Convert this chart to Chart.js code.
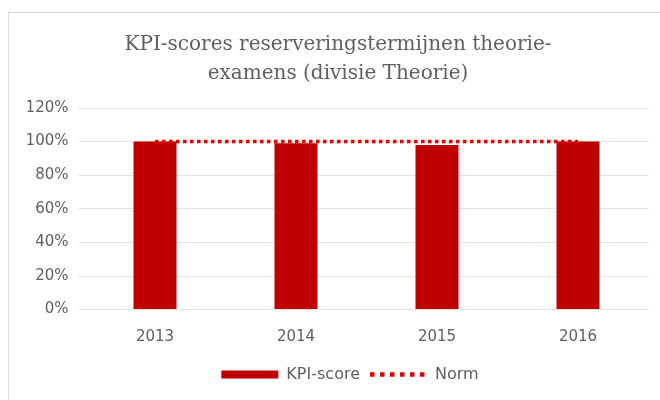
<!DOCTYPE html>
<html>
<head>
<meta charset="utf-8">
<script src="https://cdn.jsdelivr.net/npm/chart.js@4.4.1/dist/chart.umd.min.js"></script>
<style>
  html, body { margin: 0; padding: 0; background: #fff; }
  #wrap { position: absolute; left: 0; top: 0; width: 660px; height: 400px; }
  #frame { position: absolute; left: 8px; top: 12px; width: 660px; height: 400px; border: 1px solid #d9d9d9; box-sizing: border-box; }
</style>
</head>
<body>
<div id="frame"></div>
<div id="wrap"><canvas id="kpiChart" width="660" height="400"></canvas></div>
<script>
'use strict';

// ------------------------------------------------------- //
// Data
// ------------------------------------------------------ //
var years = ['2013', '2014', '2015', '2016'];
var kpiScores = [1.00, 0.99, 0.98, 1.00];
var norm = [1.00, 1.00, 1.00, 1.00];
var titleLines = ['KPI-scores reserveringstermijnen theorie-', 'examens (divisie Theorie)'];

var textColor = '#5f5f5f';
var sansFont = 'DejaVu Sans';

// nudge the legend a bit to the right, like the original
var legendShift = {
    id: 'legendShift',
    afterLayout: function(chart) {
        chart.legend.left += 12;
        chart.legend.right += 12;
    }
};

var ctx = document.getElementById('kpiChart').getContext('2d');
var kpiChart = new Chart(ctx, {
    type: 'bar',
    data: {
        labels: years,
        datasets: [{
            label: 'KPI-score',
            data: kpiScores,
            backgroundColor: '#c00000',
            borderWidth: 0,
            pointStyle: 'rect',
            categoryPercentage: 1,
            barPercentage: 0.305,
            order: 2
        }, {
            type: 'line',
            label: 'Norm',
            data: norm,
            borderColor: '#e60000',
            backgroundColor: '#e60000',
            borderWidth: 3.5,
            borderDash: [3.5, 3.5],
            pointRadius: 0,
            pointStyle: 'line',
            fill: false,
            order: 1
        }]
    },
    plugins: [legendShift],
    options: {
        responsive: false,
        animation: false,
        layout: { padding: { left: 27.5, right: 11.5, top: 0, bottom: 7.6 } },
        plugins: {
            title: {
                display: true,
                text: titleLines,
                color: textColor,
                font: { family: 'DejaVu Serif', size: 20, weight: 'normal', lineHeight: 1.45 },
                padding: { top: 30.5, bottom: 19.5 }
            },
            legend: {
                position: 'bottom',
                labels: {
                    usePointStyle: true,
                    pointStyleWidth: 57,
                    boxHeight: 8,
                    color: textColor,
                    font: { family: sansFont, size: 16 },
                    padding: 10,
                    sort: function(a, b) { return a.datasetIndex - b.datasetIndex; },
                    generateLabels: function(chart) {
                        var items = Chart.defaults.plugins.legend.labels.generateLabels(chart);
                        items.forEach(function(it) {
                            if (it.text === 'Norm') {
                                it.lineDash = [4.5, 5.5];
                                it.lineWidth = 4.5;
                                it.strokeStyle = '#e60000';
                            }
                        });
                        return items;
                    }
                }
            },
            tooltip: { enabled: false }
        },
        scales: {
            x: {
                afterFit: function(scale) { scale.height = 46.8; },
                grid: { display: false },
                border: { display: false },
                ticks: { color: textColor, font: { family: sansFont, size: 15 }, padding: 10.4 }
            },
            y: {
                min: 0,
                max: 1.2,
                afterFit: function(scale) { scale.width = 57; },
                grid: { color: '#e3e3e3', drawTicks: true, tickLength: 6 },
                border: { display: false },
                ticks: {
                    stepSize: 0.2,
                    color: textColor,
                    font: { family: sansFont, size: 15 },
                    padding: 10,
                    callback: function(v) { return Math.round(v * 100) + '%'; }
                }
            }
        }
    }
});
</script>
</body>
</html>
